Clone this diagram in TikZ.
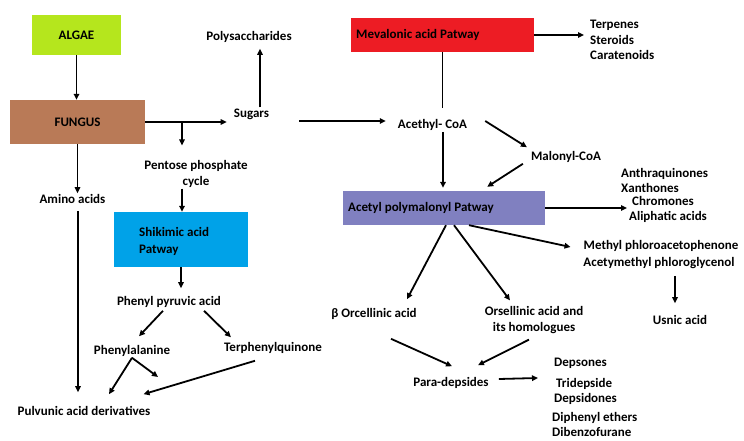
\documentclass[tikz,border=0pt]{standalone}
\usepackage{fontspec}
\setmainfont{Carlito}
\definecolor{algaegreen}{RGB}{181,230,29}
\definecolor{fungusbrown}{RGB}{185,122,87}
\definecolor{mevred}{RGB}{237,28,36}
\definecolor{polypurple}{RGB}{128,128,192}
\definecolor{shikblue}{RGB}{0,162,232}
\usetikzlibrary{shapes,arrows.meta,positioning,calc}

\begin{document}
\begin{tikzpicture}[x=1pt, y=-1pt,
    every node/.style={inner sep=1pt, font=\bfseries\fontsize{13}{15.5}\selectfont},
    flow/.style={-{Triangle[length=6pt,width=5.5pt]}, line width=1.8pt},
    link/.style={line width=1.8pt}]
    \useasboundingbox (0,0) rectangle (744,441);

    % Boxes
    \node[fill=algaegreen, minimum width=89pt, minimum height=40pt] (algae) at (76.5,35) {ALGAE};
    \node[fill=fungusbrown, minimum width=135pt, minimum height=44pt] (fungus) at (77.5,122) {FUNGUS};
    \node[fill=mevred, minimum width=183pt, minimum height=34pt] (mevalonic) at (442.5,35) {};
    \node[anchor=west] (mevtext) at (355,35) {Mevalonic acid Patway};
    \node[fill=polypurple, minimum width=202pt, minimum height=34pt] (acetyl) at (444,208) {};
    \node[anchor=west] (acetext) at (347,208) {Acetyl polymalonyl Patway};
    \node[fill=shikblue, minimum width=134pt, minimum height=55pt] (shikimic) at (181,239.5) {};
    \node[anchor=west, align=left] (shiktext) at (138,241) {Shikimic acid\\[1.5pt]Patway};

    % Left side
    \node (polysac) at (249,37) {Polysaccharides};
    \node (sugars) at (251.5,114) {Sugars};
    \node[align=center] (pentose) at (196,174) {Pentose phosphate\\cycle};
    \node (amino) at (72.5,199) {Amino acids};
    \node (pyruvic) at (169,302) {Phenyl pyruvic acid};
    \node (phenylal) at (132,351) {Phenylalanine};
    \node (terphenyl) at (273,348) {Terphenylquinone};
    \node (pulvunic) at (84,411) {Pulvunic acid derivatives};

    % Right side
    \node (acoa) at (432.5,125) {Acethyl- CoA};
    \node (malonyl) at (566,157) {Malonyl-CoA};
    \node[anchor=west, align=left] (terpenes) at (589,40) {Terpenes\\Steroids\\Caratenoids};
    \node[anchor=west] (anthra) at (620,174) {Anthraquinones};
    \node[anchor=west] (xanth) at (620,188) {Xanthones};
    \node[anchor=west] (chrom) at (631,201) {Chromones};
    \node[anchor=west] (aliph) at (628,217) {Aliphatic acids};
    \node (methyl) at (661,246) {Methyl phloroacetophenone};
    \node (acetym) at (659,263) {Acetymethyl phloroglycenol};
    \node (usnic) at (680,320) {Usnic acid};
    \node (borc) at (374,314) {β Orcellinic acid};
    \node[align=center] (orsel) at (534,320) {Orsellinic acid and\\its homologues};
    \node (para) at (451,383) {Para-depsides};
    \node[anchor=west] (depsones) at (553,363) {Depsones};
    \node[anchor=west] (tridep) at (555,384) {Tridepside};
    \node[anchor=west] (depsid) at (553,399) {Depsidones};
    \node[anchor=west] (diphen) at (551,418) {Diphenyl ethers};
    \node[anchor=west] (dibenz) at (551,432) {Dibenzofurane};

    % Arrows, left part
    \draw[flow] (algae.south) -- (algae.south |- fungus.north);
    \draw[flow] (fungus.east) -- ($(fungus.east -| sugars.west)+(-6,0)$);
    \coordinate (branch) at (182,122);
    \draw[flow] (branch) -- ($(branch |- pentose.north)+(0,-14)$);
    \draw[flow] ($(sugars.north)+(8.5,0)$) -- ($(sugars.north |- polysac.south)+(8.5,5)$);
    \draw[flow] (fungus.south) -- (fungus.south |- amino.north);
    \draw[flow] ($(amino.south)+(5.5,6)$) -- ($(amino.south |- pulvunic.north)+(5.5,-13)$);
    \draw[flow] ($(pentose.south)+(-14,0)$) -- ($(pentose.south |- shikimic.north)+(-14,0)$);
    \draw[flow] (shikimic.south) -- ($(shikimic.south |- pyruvic.north)+(0,-7)$);
    \draw[flow] ($(pyruvic.south)+(-6,2)$) -- ($(phenylal.north)+(7,-8)$);
    \draw[flow] ($(pyruvic.south)+(35,2)$) -- ($(terphenyl.north west)+(8,-4)$);
    \coordinate (merge) at (158,377);
    \draw[flow] (phenylal.south) -- ($(pulvunic.north)+(25,-11)$);
    \draw[flow] (phenylal.south) -- (merge);
    \draw[flow] ($(terphenyl.south)+(-18,6)$) -- ($(pulvunic.north east)+(-8,-11)$);

    % Arrows, right part
    \draw[flow] ($(sugars.east)+(29,7)$) -- ($(acoa.west)+(-11,-4)$);
    \draw[link] (mevalonic.south) -- ($(mevalonic.south |- acoa.north)+(0,-10)$);
    \draw[flow] (mevalonic.east) -- ($(mevalonic.east -| terpenes.west)+(-5,0)$);
    \draw[flow] ($(acoa.south)+(10.5,0)$) -- ($(acetyl.north)+(-1,-3)$);
    \draw[flow] ($(acoa.east)+(17,-4)$) -- ($(malonyl.north west)+(-3,-3)$);
    \draw[flow] ($(malonyl.south west)+(-7,0)$) -- ($(acetyl.north east)+(-58,-4)$);
    \draw[flow] (acetyl.east) -- ($(acetyl.east -| chrom.west)+(-4,0)$);
    \draw[flow] ($(acetyl.south)+(2,0)$) -- ($(borc.north)+(33,-8)$);
    \draw[flow] ($(acetyl.south)+(10,0)$) -- ($(orsel.north)+(-24,-5)$);
    \draw[flow] ($(acetyl.south)+(25,0)$) -- ($(methyl.west)+(-12,1)$);
    \draw[flow] ($(acetym.south)+(16,6)$) -- ($(acetym.south |- usnic.north)+(16,-11)$);
    \draw[flow] ($(borc.south)+(17,18)$) -- ($(para.north)+(1,-10)$);
    \draw[flow] ($(orsel.south)+(-5,5)$) -- ($(para.north)+(27,-11)$);
    \draw[flow] ($(para.east)+(9,-4)$) -- ($(tridep.west)+(-17,-6)$);
\end{tikzpicture}
\end{document}
